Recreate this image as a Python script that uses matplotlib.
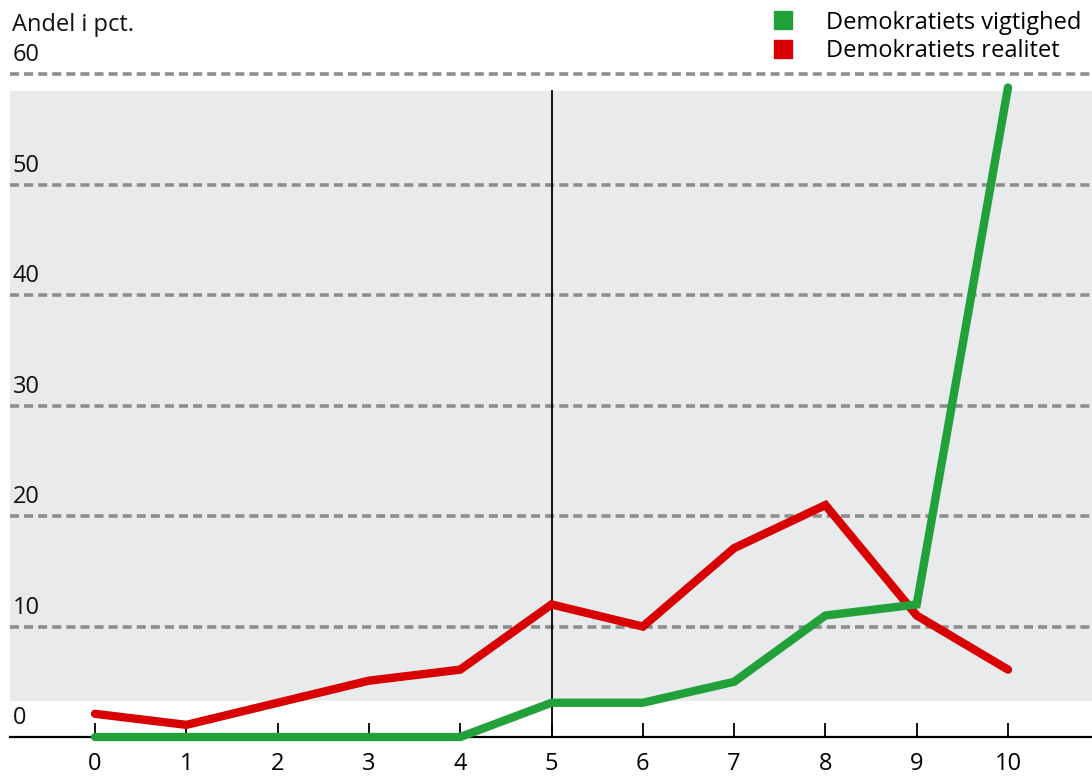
import matplotlib.pyplot as plt
from matplotlib.lines import Line2D
from matplotlib.transforms import blended_transform_factory, offset_copy

plt.rcParams['font.family'] = ['Open Sans', 'DejaVu Sans']

# scale 0-10 and share of respondents (pct.)
scale = [0, 1, 2, 3, 4, 5, 6, 7, 8, 9, 10]
vigtighed = [0, 0, 0, 0, 0, 3.1, 3.1, 5, 11, 12, 58.8]
realitet = [2.1, 1.1, 3.1, 5.1, 6.1, 12, 10, 17.1, 21, 11, 6.1]
yticks = [0, 10, 20, 30, 40, 50, 60]

green = '#22a03a'
red = '#d80000'

fig = plt.figure(figsize=(10.92, 7.79), dpi=100)
ax = fig.add_axes([0.0092, 0.0539, 0.9908, 0.865])
ax.set_xlim(-0.931, 10.92)
ax.set_ylim(0, 61)

# grey panel behind the lines
ax.axhspan(3.3, 58.5, color='#e8eaeb', lw=0, zorder=0)

# dashed gridlines
for y in yticks[1:]:
    ax.axhline(y, color='#8e8e8e', lw=2.6, linestyle=(0, (2.5, 1.4)),
               zorder=1, clip_on=False)

ax.plot([5, 5], [0, 58.5], color='black', lw=1.3, zorder=2)

ax.plot(scale, realitet, color=red, lw=6, solid_joinstyle='miter',
        solid_capstyle='round', zorder=3, clip_on=False)
ax.plot(scale, vigtighed, color=green, lw=6, solid_joinstyle='miter',
        solid_capstyle='round', zorder=4, clip_on=False)

for s in ['top', 'right', 'left']:
    ax.spines[s].set_visible(False)
ax.spines['bottom'].set_linewidth(1.6)
ax.spines['bottom'].set_zorder(2)

ax.set_xticks(scale)
ax.set_xticklabels([str(v) for v in scale], fontsize=17)
ax.tick_params(axis='x', direction='in', length=10, width=1.3, pad=11,
               color='black')
ax.set_yticks([])

# y labels sit just above each gridline at the left edge
trans = offset_copy(blended_transform_factory(ax.transAxes, ax.transData),
                    fig=fig, x=2, y=5, units='points')
for y in yticks:
    ax.text(0, y, str(y), transform=trans, fontsize=17, ha='left',
            va='bottom', color='#111111')

fig.text(0.011, 0.968, 'Andel i pct.', fontsize=17, ha='left', va='center',
         color='#111111')

handles = [Line2D([], [], marker='s', color=green, linestyle='none', markersize=13),
           Line2D([], [], marker='s', color=red, linestyle='none', markersize=13)]
fig.legend(handles, ['Demokratiets vigtighed', 'Demokratiets realitet'],
           loc='upper right', bbox_to_anchor=(1.0, 1.0), frameon=False,
           fontsize=17, handletextpad=1.2, labelspacing=0.2,
           borderaxespad=0.05, handlelength=1.2)

fig.savefig('out.png', dpi=100)
